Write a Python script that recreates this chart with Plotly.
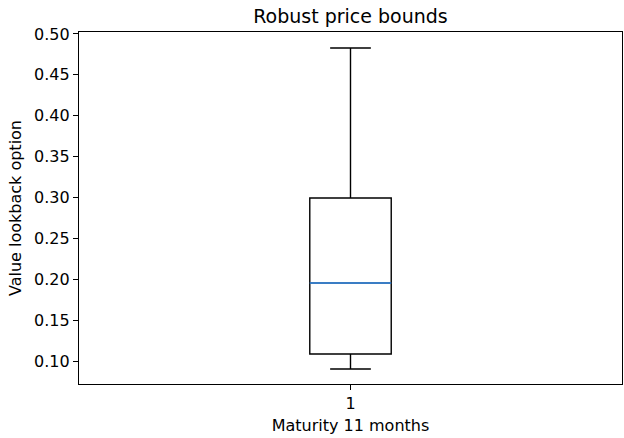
import plotly.graph_objects as go

categories = [1]
q1 = [0.1086]
median = [0.1954]
q3 = [0.2994]
lower = [0.0902]
upper = [0.4829]
box_width = 0.15

fig = go.Figure()
fig.add_trace(go.Box(
    x=categories, q1=q1, median=median, q3=q3,
    lowerfence=lower, upperfence=upper,
    width=box_width, whiskerwidth=0.5,
    fillcolor="white", line=dict(color="black", width=1.4),
    boxpoints=False, hoverinfo="skip", showlegend=False,
))
fig.add_trace(go.Scatter(
    x=[categories[0] - box_width / 2, categories[0] + box_width / 2],
    y=[median[0], median[0]],
    mode="lines", line=dict(color="#3a93f2", width=1.5),
    hoverinfo="skip", showlegend=False,
))

axis_common = dict(
    showline=True, linecolor="black", linewidth=1.2, mirror=True,
    ticks="outside", ticklen=5, tickwidth=1.2, tickcolor="black",
    showgrid=False, zeroline=False, automargin=False,
    tickfont=dict(family="DejaVu Sans", size=16, color="black"),
)

fig.update_layout(
    width=624, height=438,
    margin=dict(l=79, r=2, t=32, b=54),
    plot_bgcolor="white", paper_bgcolor="white",
    title=dict(text="Robust price bounds", x=0.5, xref="paper", xanchor="center",
               y=1 - 16 / 438, yanchor="middle",
               font=dict(family="DejaVu Sans", size=19, color="black")),
    xaxis=dict(range=[0.5, 1.5], tickvals=categories, ticktext=["1"],
               title=dict(text="Maturity 11 months", standoff=7,
                          font=dict(family="DejaVu Sans", size=16, color="black")),
               **axis_common),
    yaxis=dict(range=[0.0719, 0.5024], tickvals=[0.10, 0.15, 0.20, 0.25, 0.30, 0.35, 0.40, 0.45, 0.50],
               tickformat=".2f",
               title=dict(text="Value lookback option", standoff=8,
                          font=dict(family="DejaVu Sans", size=16, color="black")),
               **axis_common),
)

fig.write_html("out.html", config={"displayModeBar": False},
               post_script="document.body.style.margin='0';document.body.style.padding='0';")
